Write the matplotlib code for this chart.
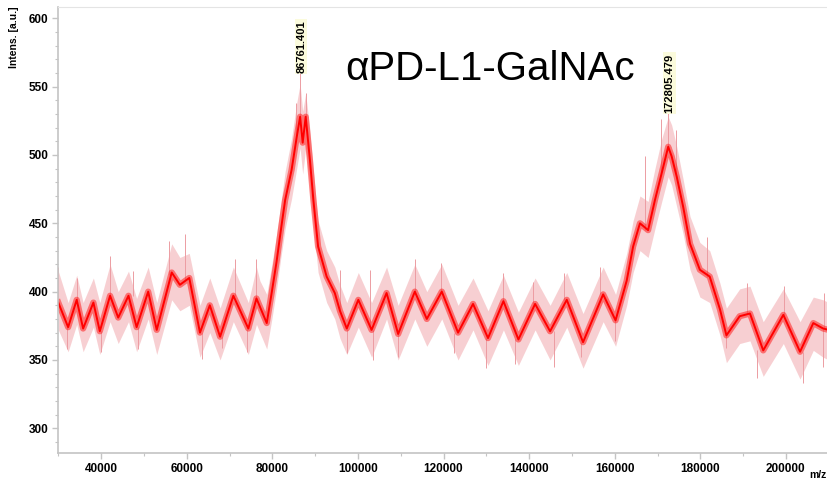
#!/usr/bin/env python3
"""
MALDI-TOF spectrum of aPD-L1-GalNAc, redrawn from the reference picture.
"""

import numpy as np
import matplotlib
matplotlib.use("Agg")
import matplotlib.pyplot as plt
from matplotlib.ticker import MultipleLocator

plt.rcParams['font.family'] = ['Liberation Sans', 'DejaVu Sans']

# m/z sample positions and the centre of the trace
mz = [30000, 32300, 34300, 35800, 38200, 39700, 42100, 44000, 46400, 48300,
      51000, 53000, 56500, 58400, 60600, 63100, 65400, 67800, 70900, 74400,
      76300, 77100, 78700, 79900, 81000, 82000, 83000, 84500, 85700, 86500,
      87100, 87800, 88800, 89600, 90700, 92700, 94600, 95800, 97400, 100100,
      103200, 106700, 109400, 113300, 116100, 119600, 123400, 126900, 130400, 134000,
      137500, 141400, 144900, 148800, 152600, 157300, 160200, 162800, 164300, 165900,
      167800, 169400, 171000, 172500, 173300, 174500, 176000, 177600, 179900, 182200,
      184600, 186100, 189200, 191600, 194700, 199400, 203300, 206400, 208700, 210000]
intensity = [392, 374, 394, 373, 392, 371, 397, 381, 397, 374,
             400, 372, 414, 405, 410, 370, 390, 367, 397, 373,
             395, 389, 377, 400, 422, 445, 467, 489, 513, 528,
             509, 528, 496, 467, 433, 411, 399, 386, 373, 394,
             372, 399, 369, 400, 380, 400, 370, 391, 366, 393,
             365, 391, 371, 394, 363, 398, 379, 408, 433, 450,
             445, 467, 487, 506, 499, 484, 462, 435, 416, 411,
             387, 368, 382, 384, 357, 383, 356, 377, 373, 372]
# upper / lower edge of the noise band at the same positions
band_hi = [415, 392, 412, 392, 410, 392, 420, 400, 415, 395,
           418, 392, 435, 425, 428, 390, 410, 388, 418, 392,
           418, 408, 398, 420, 442, 465, 488, 512, 538, 552,
           532, 545, 518, 488, 452, 430, 418, 405, 392, 414,
           392, 418, 390, 420, 400, 420, 390, 410, 386, 412,
           385, 410, 390, 414, 384, 418, 398, 428, 452, 470,
           466, 490, 512, 528, 522, 506, 482, 455, 436, 430,
           406, 388, 402, 404, 378, 402, 378, 396, 394, 392]
band_lo = [372, 356, 376, 356, 374, 354, 378, 362, 378, 356,
           380, 354, 394, 386, 390, 352, 370, 350, 378, 354,
           376, 370, 358, 380, 402, 425, 446, 468, 490, 505,
           486, 505, 476, 448, 414, 392, 380, 366, 354, 374,
           352, 380, 350, 380, 360, 380, 350, 372, 346, 372,
           346, 372, 350, 374, 344, 378, 360, 390, 414, 430,
           425, 446, 466, 484, 478, 462, 442, 416, 396, 392,
           368, 348, 362, 364, 338, 362, 336, 357, 352, 350]

# tallest single spikes (m/z, bottom, top)
spike_mz = [30000, 34300, 42100, 47400, 55900, 59600, 71400, 76300,
            86500, 87800, 85600, 95800, 102900, 113300, 119300, 133900,
            140900, 148100, 156500, 167000, 170900, 172500, 174300, 181600,
            190900, 199500, 208800]
spike_lo = [392, 394, 397, 397, 412, 408, 397, 395,
            528, 528, 513, 386, 372, 400, 400, 393,
            391, 394, 398, 445, 487, 506, 484, 411,
            384, 383, 373]
spike_hi = [418, 410, 426, 415, 437, 442, 424, 424,
            560, 545, 538, 416, 416, 424, 421, 414,
            407, 414, 418, 499, 526, 531, 518, 440,
            406, 404, 399]
dip_mz = [32000, 39900, 48600, 63500, 68200, 74100, 97400, 103600,
          109400, 122500, 130000, 136600, 145700, 152200, 160000, 186100,
          193300, 204100, 208700]
dip_lo = [358, 356, 358, 351, 359, 356, 355, 350,
          352, 355, 344, 347, 345, 352, 364, 359,
          337, 333, 345]
dip_hi = [374, 371, 374, 370, 367, 373, 373, 372,
          369, 370, 366, 365, 371, 363, 379, 368,
          357, 356, 373]

peak_labels = [(86761.401, 560), (172805.479, 531)]
title = "αPD-L1-GalNAc"

W, H = 827, 483
fig = plt.figure(figsize=(W / 100, H / 100), dpi=100)
ax = fig.add_axes([58.3 / W, 1 - 453.3 / H, 1 - 58.3 / W, (453.3 - 6.7) / H])

# noise band, spikes and the dense red core of the trace
ax.fill_between(mz, band_lo, band_hi, color='#f6c4c7', alpha=0.8, lw=0)
ax.vlines(spike_mz, spike_lo, spike_hi, color='#ec9ca2', lw=0.7)
ax.vlines(dip_mz, dip_lo, dip_hi, color='#ec9ca2', lw=0.7)
ax.plot(mz, intensity, color='#ff2020', lw=4.5, alpha=0.55)
ax.plot(mz, intensity, color='#ff0000', lw=1.4)

ax.set_xlim(30000, 209600)
ax.set_ylim(281.7, 608.5)

ax.yaxis.set_major_locator(MultipleLocator(50))
ax.yaxis.set_minor_locator(MultipleLocator(10))
ax.xaxis.set_major_locator(MultipleLocator(20000))
ax.xaxis.set_minor_locator(MultipleLocator(10000))

axis_grey = '#c4c4c4'
for side in ('left', 'bottom'):
    ax.spines[side].set_color(axis_grey)
    ax.spines[side].set_linewidth(1.2)
ax.spines['top'].set_color('#e4e4e4')
ax.spines['right'].set_visible(False)
ax.tick_params(which='major', length=4, width=1, color=axis_grey,
               labelsize=8.5, labelcolor='black', pad=3)
ax.tick_params(which='minor', length=2.5, width=0.8, color=axis_grey)
for lab in ax.get_xticklabels() + ax.get_yticklabels():
    lab.set_fontweight('bold')

fig.text(14 / W, 1 - 6 / H, "Intens. [a.u.]", rotation=90, ha='center', va='top',
         fontsize=7.5, fontweight='bold')
fig.text(826 / W, 1 - 478 / H, "m/z", ha='right', va='baseline',
         fontsize=7.5, fontweight='bold')

for x, y in peak_labels:
    ax.text(x, y, f"{x:.3f}", rotation=90, ha='center', va='bottom',
            fontsize=8, fontweight='bold',
            bbox=dict(boxstyle='square,pad=0.1', facecolor='#fbfbdc', edgecolor='none'))

fig.text(345 / W, 1 - 80 / H, title, ha='left', va='baseline', fontsize=29)

fig.savefig("out.png", dpi=100)
plt.close(fig)
